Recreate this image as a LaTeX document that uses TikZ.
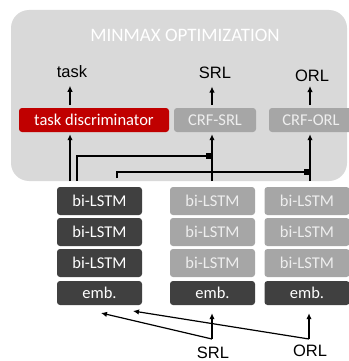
\documentclass[tikz,border=0pt]{standalone}
\usepackage{fontspec}
\setmainfont{Carlito}
\newfontfamily\arialf{Liberation Sans}
\usetikzlibrary{arrows.meta}
\definecolor{panelgray}{HTML}{D9D9D9}
\definecolor{discred}{HTML}{C00000}
\definecolor{midgray}{HTML}{A6A6A6}
\definecolor{darkbox}{HTML}{404040}
\definecolor{lighttext}{HTML}{EEEEEE}
\tikzset{
  box/.style={rounded corners=3pt, inner sep=0pt, font=\fontsize{16.5}{18}\selectfont},
  darkb/.style={box, fill=darkbox, text=white},
  grayb/.style={box, fill=midgray, text=lighttext},
  redb/.style={box, fill=discred, text=white},
  lbl/.style={inner sep=0pt, font=\arialf\fontsize{16.5}{18}\selectfont},
  arr/.style={-{Latex[length=6pt,width=5.5pt]}, line width=1.2pt},
  ln/.style={line width=1.2pt},
  sq/.style={fill=black, minimum size=6pt, inner sep=0pt}
}
\begin{document}
\begin{tikzpicture}[x=1pt,y=-1pt]
\useasboundingbox (0,0) rectangle (348,361);
% panel
\fill[panelgray, rounded corners=18pt] (11,10) rectangle (347,181);
\node[text=white, font=\fontsize{19}{21}\selectfont, inner sep=0pt] (title) at (185,35) {MINMAX OPTIMIZATION};
% top labels
\node[lbl] (tasklbl) at (72,71.5) {task};
\node[lbl] (srlT) at (215,72.5) {SRL};
\node[lbl] (orlT) at (312,76) {ORL};
% top boxes
\node[redb, minimum width=150pt, minimum height=24pt] (disc) at (94,120) {task discriminator};
\node[grayb, minimum width=82pt, minimum height=24pt] (crfS) at (215,120) {CRF-SRL};
\node[grayb, minimum width=84pt, minimum height=24pt] (crfO) at (311,120) {CRF-ORL};
% stacks
\foreach \n/\cx/\st in {L/99.5/darkb, M/212.5/grayb, R/307/grayb}{
  \node[\st, minimum width=85pt, minimum height=28pt] (l1\n) at (\cx,201) {bi-LSTM};
  \node[\st, minimum width=85pt, minimum height=28pt] (l2\n) at (\cx,232) {bi-LSTM};
  \node[\st, minimum width=85pt, minimum height=28pt] (l3\n) at (\cx,263) {bi-LSTM};
  \node[darkb, minimum width=85pt, minimum height=24pt] (emb\n) at (\cx,293) {emb.};
}
% bottom labels
\node[lbl] (srlB) at (213,352.5) {SRL};
\node[lbl] (orlB) at (310,351) {ORL};
% coordinates
\coordinate (pb) at (0,181);
\coordinate (ua) at (0,105);
\coordinate (aT) at (70,0);
\coordinate (aS) at (212,0);
\coordinate (aO) at (310,0);
\coordinate (j1) at (77,181);
\coordinate (j2) at (117,178);
\coordinate (f1) at (212,339);
\coordinate (f2) at (309,339);
\coordinate (t1) at (101,313);
\coordinate (t2) at (133,311);
% arrows to labels
\draw[arr, shorten >=8pt] (aT |- ua) -- (aT |- tasklbl.south);
\draw[arr, shorten >=8pt] (aS |- ua) -- (aS |- srlT.south);
\draw[arr, shorten >=4pt] (aO |- ua) -- (aO |- orlT.south);
% arrows into top boxes
\draw[arr, shorten >=2pt] (aT |- pb) -- (aT |- disc.south);
\draw[arr, shorten >=2pt] (aS |- pb) -- (aS |- crfS.south);
\draw[arr, shorten >=2pt] (aO |- pb) -- (aO |- crfO.south);
% shared lines with junctions
\draw[ln] (j1) |- (aS |- 0,156) node[sq, anchor=east, xshift=0.5pt] (q1) {};
\draw[ln] (j2) |- (aO |- 0,172) node[sq, anchor=east, xshift=0.5pt] (q2) {};
% bottom inputs
\draw[arr, shorten >=8pt] (f1) -- (embM.south -| f1);
\draw[arr, shorten >=8pt] (f2) -- (embR.south -| f2);
\draw[arr] (f1) -- (t1);
\draw[arr] (f2) -- (t2);
\end{tikzpicture}
\end{document}
